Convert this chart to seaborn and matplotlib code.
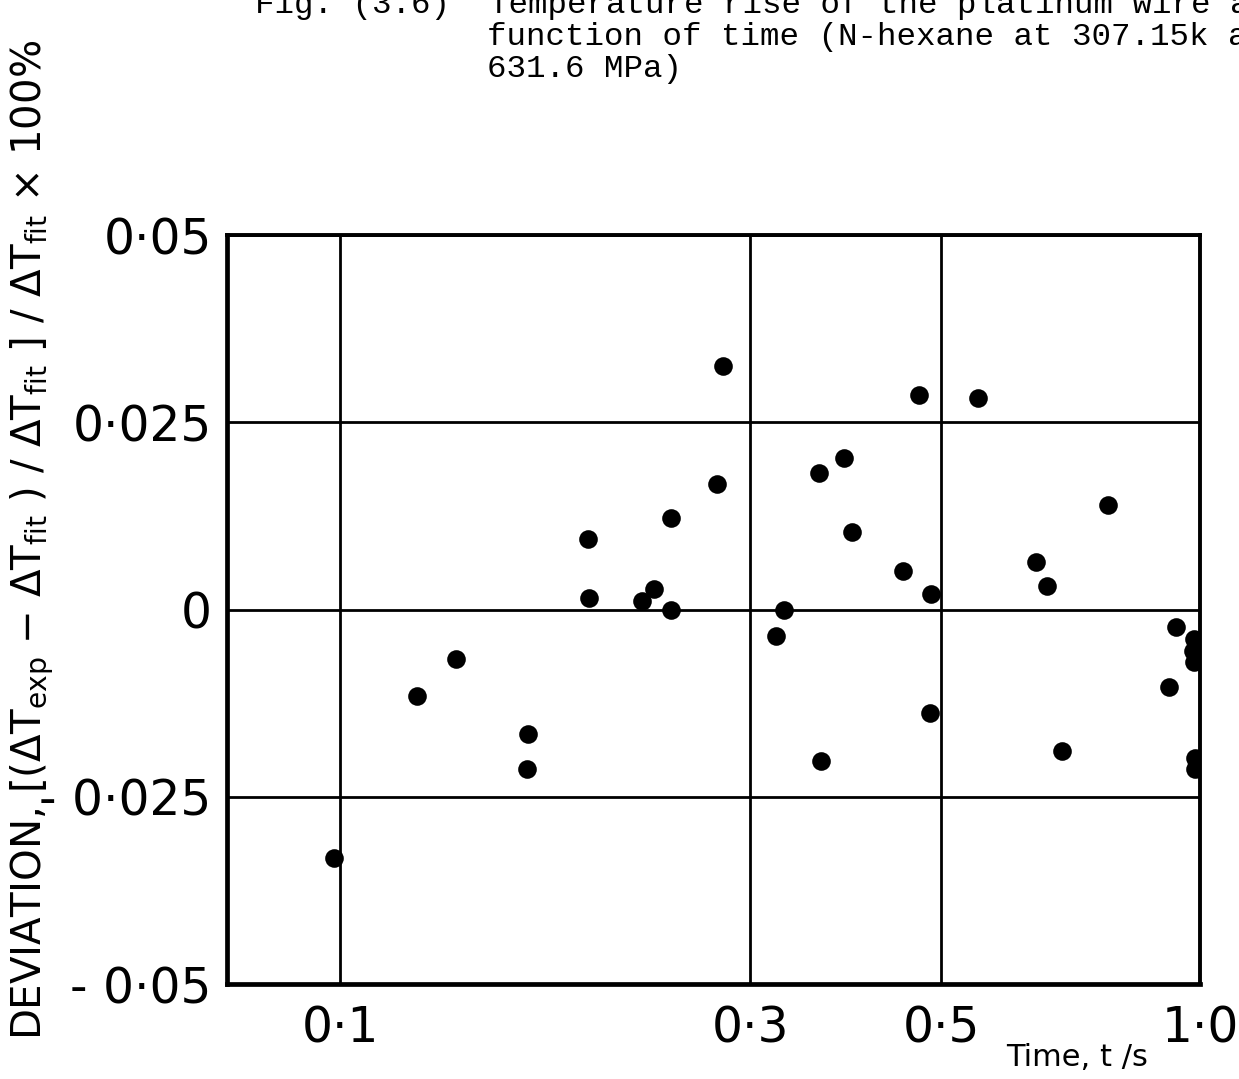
import matplotlib
matplotlib.use("Agg")
import matplotlib.pyplot as plt
from matplotlib.ticker import NullLocator
import pandas as pd
import seaborn as sns

# Measured hot-wire run: time after heating starts and relative deviation of the fit
time_s = [0.0984, 0.1229, 0.1364, 0.1653, 0.1649, 0.1941, 0.1946, 0.2242,
          0.2321, 0.2423, 0.2423, 0.2741, 0.2792, 0.3218, 0.3279, 0.3610,
          0.3629, 0.3860, 0.3943, 0.4518, 0.4716, 0.4871, 0.4858, 0.5523,
          0.6450, 0.6642, 0.6912, 0.7820, 0.9205, 0.9379, 0.9841, 0.9815,
          0.9841, 0.9867, 0.9867]
deviation = [-0.0332, -0.0115, -0.0066, -0.0166, -0.0213, 0.0094, 0.0016, 0.0012,
             0.0028, 0.0000, 0.0122, 0.0167, 0.0325, -0.0035, 0.0000, 0.0182,
             -0.0202, 0.0202, 0.0104, 0.0052, 0.0286, 0.0021, -0.0138, 0.0283,
             0.0063, 0.0031, -0.0189, 0.0139, -0.0104, -0.0023, -0.0040, -0.0055,
             -0.0070, -0.0198, -0.0213]

x_ticks = [0.1, 0.3, 0.5, 1.0]
x_tick_labels = ["0·1", "0·3", "0·5", "1·0"]
y_ticks = [-0.05, -0.025, 0.0, 0.025, 0.05]
y_tick_labels = ["- 0·05", "- 0·025", "0", "0·025", "0·05"]

title_lines = ["Fig. (3.6)  Temperature rise of the platinum wire as a",
               "function of time (N-hexane at 307.15k and",
               "631.6 MPa)"]
y_label = ("DEVIATION, [(ΔT$_{\\mathrm{exp}}$ − ΔT$_{\\mathrm{fit}}$ ) / "
           "ΔT$_{\\mathrm{fit}}$ ] / ΔT$_{\\mathrm{fit}}$ × 100%")
x_label = "Time, t /s"

sns.set_theme(style="white")
plt.rcParams["font.family"] = ["DejaVu Sans"]
plt.rcParams["mathtext.fontset"] = "dejavusans"

fig = plt.figure(figsize=(12.39, 10.79), dpi=100)
fig.patch.set_facecolor("white")
ax = fig.add_axes([0.1832, 0.0880, 0.7853, 0.6942])

df = pd.DataFrame({"time": time_s, "deviation": deviation})
sns.scatterplot(data=df, x="time", y="deviation", ax=ax, color="black",
                s=180, linewidth=0, zorder=3)

ax.set_xscale("log")
ax.set_xlim(0.0739, 1.0)
ax.set_ylim(-0.05, 0.05)
ax.set_xticks(x_ticks)
ax.set_xticklabels(x_tick_labels)
ax.xaxis.set_minor_locator(NullLocator())
ax.set_yticks(y_ticks)
ax.set_yticklabels(y_tick_labels)
ax.set_xlabel("")
ax.set_ylabel("")

ax.grid(True, color="black", linewidth=2)
for side, spine in ax.spines.items():
    spine.set_visible(True)
    spine.set_color("black")
    spine.set_linewidth(3.4 if side in ("left", "bottom") else 2.8)

ax.tick_params(axis="both", which="major", direction="out", width=2,
               color="black", labelcolor="black", labelsize=35)
ax.tick_params(axis="x", length=5, pad=10)
ax.tick_params(axis="y", length=8, pad=3)

mono = ["Liberation Mono", "DejaVu Sans Mono"]
for x_px, y_px, line in [(255, 13, title_lines[0]),
                         (487, 45, title_lines[1]),
                         (487, 77, title_lines[2])]:
    fig.text(x_px / 1239, 1 - y_px / 1079, line, family=mono, fontsize=23.4,
             ha="left", va="baseline", color="black")

fig.text(32 / 1239, 1 - 540 / 1079, y_label, rotation=90, fontsize=29,
         ha="center", va="center", color="black")
fig.text(1077 / 1239, 1 - 1058 / 1079, x_label, fontsize=22,
         ha="center", va="center", color="black")

fig.savefig("out.png", dpi=100, facecolor="white")
